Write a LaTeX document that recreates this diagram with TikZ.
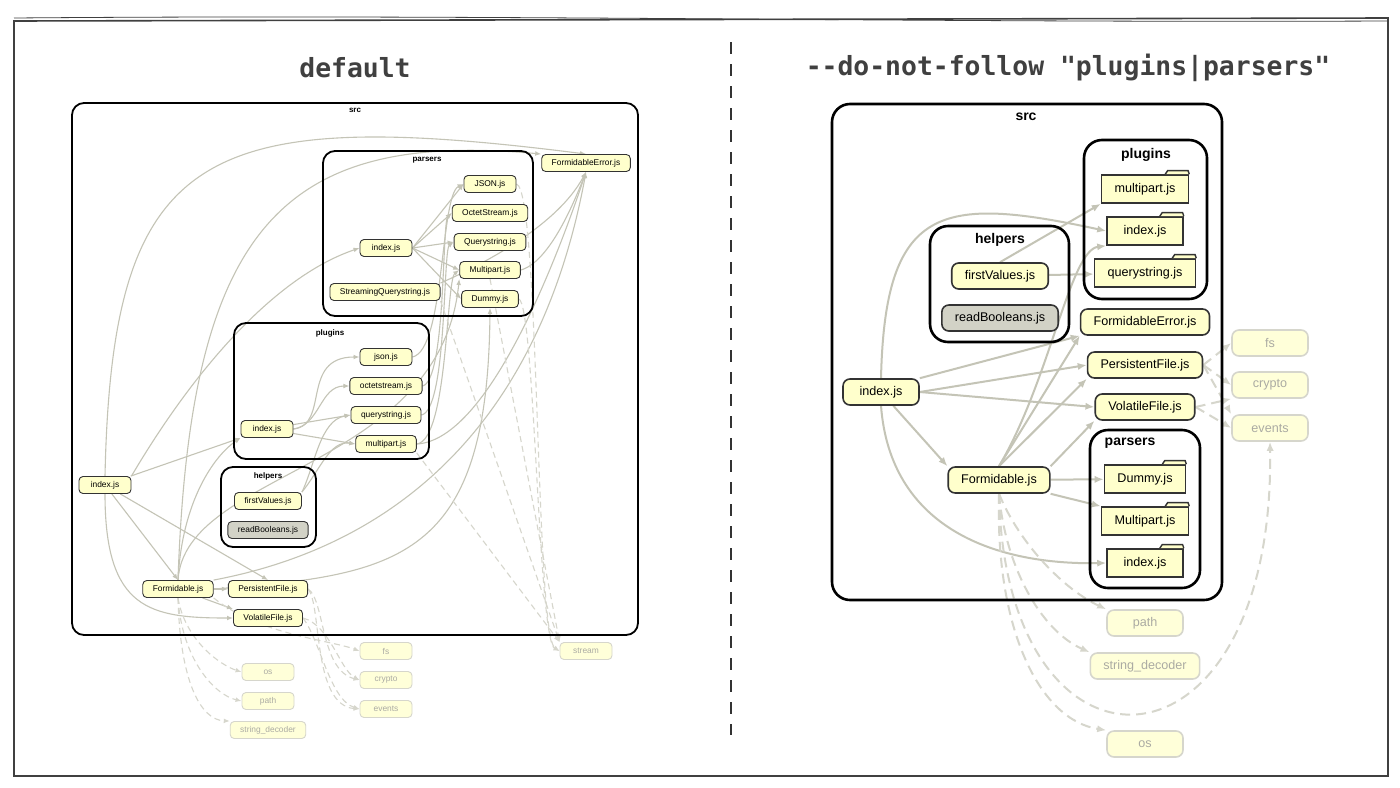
\documentclass[tikz,border=0pt]{standalone}
\usepackage{fontspec}
\setmainfont{Liberation Sans}
\newfontfamily\titlefont{DejaVu Sans Mono}
\usetikzlibrary{arrows.meta,backgrounds}

\definecolor{filefill}{HTML}{FFFFCC}
\definecolor{boolfill}{HTML}{D2D2C6}
\definecolor{edgecol}{HTML}{C4C4B6}
\definecolor{extline}{HTML}{D6D6CC}
\definecolor{exttext}{HTML}{ABABA3}
\definecolor{extfill}{HTML}{FFFFD9}

\begin{document}
\begin{tikzpicture}[
    x=0.5pt, y=-0.5pt,
    frame/.style={draw=black!75, line width=0.8pt},
    divider/.style={draw=black!80, line width=0.6pt, dash pattern=on 6pt off 5pt},
    title/.style={font=\titlefont\bfseries\fontsize{13.2}{15}\selectfont, text=black!75},
    % left picture: small
    scluster/.style={draw=black, line width=0.9pt, rounded corners=6pt},
    slabel/.style={font=\bfseries\fontsize{4}{5}\selectfont},
    sfile/.style={rectangle, rounded corners=2pt, draw=black!80, line width=0.45pt,
                  fill=filefill, minimum width=26pt, minimum height=8.5pt,
                  inner xsep=5pt, inner ysep=0pt, font=\fontsize{4.2}{5}\selectfont},
    sext/.style={sfile, draw=extline, fill=extfill, text=exttext},
    sedge/.style={draw=edgecol, line width=0.55pt, -{Latex[length=3pt,width=2.4pt]}},
    sdash/.style={sedge, draw=extline, dash pattern=on 3pt off 2pt},
    % right picture: big
    bcluster/.style={draw=black, line width=1.3pt, rounded corners=9pt},
    blabel/.style={font=\bfseries\fontsize{7}{8}\selectfont},
    bfile/.style={rectangle, rounded corners=3.5pt, draw=black!80, line width=0.8pt,
                  fill=filefill, minimum width=38pt, minimum height=13pt,
                  inner xsep=6.5pt, inner ysep=0pt, font=\fontsize{6.3}{7}\selectfont},
    bfolder/.style={bfile, sharp corners, minimum height=14pt},
    btab/.style={draw=black!80, line width=0.7pt, fill=filefill},
    bext/.style={bfile, draw=extline, fill=extfill, text=exttext},
    bedge/.style={draw=edgecol, line width=1pt, -{Latex[length=4.5pt,width=3.6pt]}},
    bdash/.style={bedge, draw=extline, dash pattern=on 5pt off 3pt}
]
    \useasboundingbox (0,0) rectangle (1400,787);
    \begin{pgfonlayer}{background}
        \fill[white] (0,0) rectangle (1400,787);
    \end{pgfonlayer}

    % frame, divider, titles
    \draw[frame] (14,21) -- (1388,18) -- (1388,776) -- (14,776) -- cycle;
    \draw[frame, line width=0.4pt] (14,18) .. controls (500,14) and (900,23) .. (1388,21);
    \draw[divider] (731,42) -- (731,735);
    \node[title] (ttldefault) at (355,68) {default};
    \node[title] (ttlfollow) at (1068,68) {-\kern0pt-do-not-follow "plugins|parsers"};

    % ---------------- default ----------------
    \draw[scluster] (72,103) rectangle (638,635);
    \node[slabel] (lsrc) at (355,110) {src};
    \draw[scluster] (323,151) rectangle (533,316);
    \node[slabel] (lparsers) at (427,160) {parsers};
    \draw[scluster] (234,323) rectangle (429,459);
    \node[slabel] (lplugins) at (330,333) {plugins};
    \draw[scluster] (221,467) rectangle (316,547);
    \node[slabel] (lhelpers) at (268,476) {helpers};

    \node[sfile] (lidx) at (105,485) {index.js};
    \node[sfile] (lferr) at (586,163) {FormidableError.js};
    \node[sfile] (lparidx) at (386,248) {index.js};
    \node[sfile] (ljson) at (490,184) {JSON.js};
    \node[sfile] (loct) at (490,213) {OctetStream.js};
    \node[sfile] (lqs) at (490,242) {Querystring.js};
    \node[sfile] (lmp) at (490,270) {Multipart.js};
    \node[sfile] (ldum) at (490,299) {Dummy.js};
    \node[sfile] (lsqs) at (385,292) {StreamingQuerystring.js};
    \node[sfile] (lplugidx) at (267,429) {index.js};
    \node[sfile] (lgjson) at (386,357) {json.js};
    \node[sfile] (lgoct) at (386,386) {octetstream.js};
    \node[sfile] (lgqs) at (386,415) {querystring.js};
    \node[sfile] (lgmp) at (386,444) {multipart.js};
    \node[sfile] (lfv) at (268,501) {firstValues.js};
    \node[sfile, fill=boolfill] (lrb) at (268,530) {readBooleans.js};
    \node[sfile] (lform) at (178,589) {Formidable.js};
    \node[sfile] (lpers) at (268,589) {PersistentFile.js};
    \node[sfile] (lvol) at (268,618) {VolatileFile.js};
    \node[sext] (lfs) at (386,651) {fs};
    \node[sext] (lcry) at (386,680) {crypto};
    \node[sext] (lev) at (386,709) {events};
    \node[sext] (los) at (268,672) {os};
    \node[sext] (lpath) at (268,701) {path};
    \node[sext] (lsd) at (268,730) {string\_decoder};
    \node[sext] (lstr) at (586,651) {stream};

    \begin{pgfonlayer}{background}
    \draw[sedge] (lidx.north) .. controls (112,150) and (200,105) .. (lferr.north);
    \draw[sedge] (lform.north) .. controls (190,230) and (280,130) .. (lferr.north west);
    \draw[sedge] (lidx.north east) .. controls (200,360) and (280,275) .. (lparidx.west);
    \draw[sedge] (lidx) -- (lplugidx.south west);
    \draw[sedge] (lidx) -- (lform.north);
    \draw[sedge] (lidx) -- (lpers.north);
    \draw[sedge] (lidx.south) .. controls (105,610) and (150,618) .. (lvol.west);
    \draw[sedge] (lform) -- (lpers);
    \draw[sedge] (lform) -- (lvol.north west);
    \draw[sedge] (lform.north) .. controls (182,500) and (215,455) .. (lplugidx.south west);
    \draw[sedge] (lform.north east) .. controls (400,545) and (540,420) .. (lferr.south);
    \draw[sedge] (lform.east) .. controls (400,575) and (488,560) .. (ldum.south);
    \draw[sedge] (lform.north) .. controls (185,470) and (440,470) .. (lmp.south west);
    \foreach \p in {ljson,loct,lqs,lmp,ldum}
        \draw[sedge] (lparidx.east) -- (\p.west);
    \draw[sedge] (lplugidx.east) .. controls (330,425) and (300,357) .. (lgjson.west);
    \draw[sedge] (lplugidx.east) .. controls (320,425) and (320,386) .. (lgoct.west);
    \draw[sedge] (lplugidx) -- (lgqs.west);
    \draw[sedge] (lplugidx) -- (lgmp.west);
    \draw[sedge] (lgjson.east) .. controls (445,350) and (440,195) .. (ljson.west);
    \draw[sedge] (lgoct.east) .. controls (446,380) and (442,222) .. (loct.west);
    \draw[sedge] (lgqs.east) .. controls (447,410) and (443,250) .. (lqs.west);
    \draw[sedge] (lgmp.east) .. controls (448,440) and (446,280) .. (lmp.west);
    \draw[sedge] (lgmp.east) .. controls (490,440) and (560,250) .. (lferr.south);
    \draw[sedge] (lmp.east) .. controls (550,262) and (575,200) .. (lferr.south);
    \draw[sedge] (lsqs.north east) .. controls (470,270) and (555,230) .. (lferr.south);
    \draw[sedge] (lfv.north east) .. controls (320,470) and (330,440) .. (lgmp.west);
    \draw[sedge] (lfv.north east) .. controls (315,465) and (320,420) .. (lgqs.west);
    % externals
    \draw[sdash] (lform.south) .. controls (185,640) and (220,665) .. (los.west);
    \draw[sdash] (lform.south) .. controls (182,660) and (215,695) .. (lpath.west);
    \draw[sdash] (lform.south) .. controls (180,680) and (200,720) .. (lsd.north west);
    \draw[sdash] (lform.south east) .. controls (260,635) and (330,640) .. (lfs.west);
    \draw[sdash] (lpers.east) .. controls (325,600) and (320,670) .. (lcry.west);
    \draw[sdash] (lpers.east) .. controls (322,605) and (312,705) .. (lev.west);
    \draw[sdash] (lvol.east) .. controls (330,625) and (340,670) .. (lcry.west);
    \draw[sdash] (lvol.east) .. controls (320,640) and (330,700) .. (lev.west);
    \draw[sdash] (ljson.east) .. controls (540,190) and (535,635) .. (lstr.west);
    \draw[sdash] (ldum.east) .. controls (535,305) and (538,640) .. (lstr.west);
    \draw[sdash] (lmp.south) -- (lstr.north west);
    \draw[sdash] (lsqs.south east) -- (lstr.north west);
    \draw[sdash] (lgmp.south east) -- (lstr.north west);
    \end{pgfonlayer}

    % ---------------- --do-not-follow ----------------
    \draw[bcluster] (832,104) rectangle (1222,600);
    \node[blabel] (rsrc) at (1026,117) {src};
    \draw[bcluster] (1084,140) rectangle (1207,299);
    \node[blabel] (rplugins) at (1146,155) {plugins};
    \draw[bcluster] (930,226) rectangle (1069,342);
    \node[blabel] (rhelpers) at (1000,240) {helpers};
    \draw[bcluster] (1090,430) rectangle (1200,588);
    \node[blabel] (rparsers) at (1130,443) {parsers};

    \node[bfolder] (rgmp) at (1145,189) {multipart.js};
    \node[bfolder] (rgidx) at (1145,231) {index.js};
    \node[bfolder] (rgqs) at (1145,273) {querystring.js};
    \node[bfile] (rfv) at (1000,276) {firstValues.js};
    \node[bfile, fill=boolfill] (rrb) at (1000,318) {readBooleans.js};
    \node[bfile] (rferr) at (1145,322) {FormidableError.js};
    \node[bfile] (rpers) at (1145,365) {PersistentFile.js};
    \node[bfile] (rvol) at (1145,407) {VolatileFile.js};
    \node[bfile] (ridx) at (881,392) {index.js};
    \node[bfile] (rform) at (999,480) {Formidable.js};
    \node[bfolder] (rdum) at (1145,479) {Dummy.js};
    \node[bfolder] (rmp) at (1145,521) {Multipart.js};
    \node[bfolder] (rnidx) at (1145,563) {index.js};
    \node[bext] (rfs) at (1270,343) {fs};
    \node[bext] (rcry) at (1270,385) {crypto};
    \node[bext] (rev) at (1270,428) {events};
    \node[bext] (rpath) at (1145,623) {path};
    \node[bext] (rsd) at (1145,666) {string\_decoder};
    \node[bext] (ros) at (1145,744) {os};
    \foreach \f in {rgmp,rgidx,rgqs,rdum,rmp,rnidx}
        \filldraw[btab] ([xshift=-12pt]\f.north east) -- ++(1.2pt,1.8pt)
            -- ([xshift=-0.6pt,yshift=1.8pt]\f.north east) -- (\f.north east);

    \begin{pgfonlayer}{background}
    \draw[bedge] (ridx) -- (rform.north west);
    \draw[bedge] (ridx.east) -- (rpers.west);
    \draw[bedge] (ridx.east) -- (rvol.west);
    \draw[bedge] (ridx.north east) -- (rferr.south west);
    \draw[bedge] (ridx.north) .. controls (885,205) and (940,195) .. (rgidx.west);
    \draw[bedge] (ridx.south) .. controls (890,525) and (990,565) .. (rnidx.west);
    \draw[bedge] (rform) -- (rdum);
    \draw[bedge] (rform.south east) -- (rmp.north west);
    \draw[bedge] (rform.north east) -- (rvol.south west);
    \draw[bedge] (rform.north) -- (rpers.south west);
    \draw[bedge] (rform.north) -- (rferr.south west);
    \draw[bedge] (rform.north) .. controls (1050,380) and (1070,250) .. (rgidx.south west);
    \draw[bedge] (rfv.north) -- (rgmp.south west);
    \draw[bedge] (rfv) -- (rgqs);
    % externals
    \draw[bdash] (rpers.east) -- (rfs.west);
    \draw[bdash] (rpers.east) -- (rcry.west);
    \draw[bdash] (rpers.east) -- (rev.north west);
    \draw[bdash] (rvol.east) -- (rcry.south west);
    \draw[bdash] (rvol.east) -- (rev.west);
    \draw[bdash] (rform.south) .. controls (1020,545) and (1065,590) .. (rpath.north west);
    \draw[bdash] (rform.south) .. controls (1005,565) and (1040,630) .. (rsd.north west);
    \draw[bdash] (rform.south) .. controls (995,630) and (1040,720) .. (ros.north west);
    \draw[bdash] (rform.south) .. controls (1005,800) and (1275,790) .. (rev.south);
    \end{pgfonlayer}
\end{tikzpicture}
\end{document}
